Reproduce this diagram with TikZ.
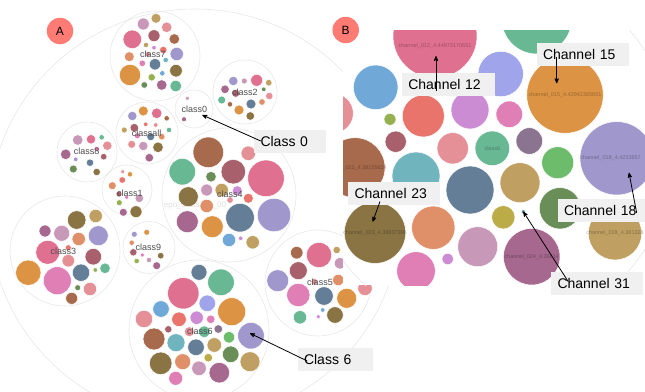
\documentclass[tikz,border=0pt]{standalone}
\usepackage{fontspec}
\setmainfont{Liberation Sans}
\usepackage{tikz}
\usetikzlibrary{arrows}
\usetikzlibrary{positioning}
\newcommand\defaultarrowstyle{stealth'}
\tikzset{>=\defaultarrowstyle}
\newcommand\ringwidth{.6pt}
\newcommand\pointerwidth{.8pt}
\definecolor{ringgrey}{HTML}{E8E8E8}
\definecolor{boxgrey}{HTML}{F0F0F0}
\definecolor{labelgrey}{HTML}{4D4D4D}
\definecolor{badgered}{HTML}{FF7B73}
\definecolor{pinkbig}{HTML}{E07090}
\definecolor{mauve}{HTML}{C898B8}
\definecolor{olivegold}{HTML}{C0A062}
\definecolor{salmon}{HTML}{E49096}
\definecolor{wine}{HTML}{A8606C}
\definecolor{brownred}{HTML}{A86A4C}
\definecolor{olivedark}{HTML}{8A7444}
\definecolor{magenta}{HTML}{E07EB6}
\definecolor{slate}{HTML}{647E98}
\definecolor{teal}{HTML}{70B4BE}
\definecolor{orange}{HTML}{DC9444}
\definecolor{orangetan}{HTML}{E09068}
\definecolor{blue}{HTML}{70A8D8}
\definecolor{lavender}{HTML}{A098CC}
\definecolor{lavblue}{HTML}{A0A4EA}
\definecolor{greenteal}{HTML}{68B894}
\definecolor{green}{HTML}{6CBC6C}
\definecolor{darkgreen}{HTML}{6A8E58}
\definecolor{greenyellow}{HTML}{94B050}
\definecolor{yellowolive}{HTML}{BCAC48}
\definecolor{red}{HTML}{E8746C}
\definecolor{orchid}{HTML}{CC8CD4}
\definecolor{plum}{HTML}{A6688E}
\definecolor{purplegray}{HTML}{8A7490}
\definecolor{tealdark}{HTML}{4A9088}
\tikzstyle{bubble}  = [draw=white, line width=.5pt]
\tikzstyle{cluster} = [draw=ringgrey, line width=\ringwidth]
\tikzstyle{clabel}  = [text=labelgrey, inner sep=0pt, font=\fontsize{9}{10}\selectfont]
\tikzstyle{chlabel} = [text=black, text opacity=.3, inner sep=0pt, font=\fontsize{5.5}{6}\selectfont]
\tikzstyle{tag}     = [fill=boxgrey, inner xsep=6.5pt, minimum height=23pt, align=left,
                       font=\fontsize{14}{16}\selectfont]
\tikzstyle{badge}   = [circle, fill=badgered, minimum size=26.5pt, inner sep=0pt,
                       font=\fontsize{12}{14}\selectfont]
\tikzstyle{pointer} = [->, line width=\pointerwidth]

\begin{document}
\begin{tikzpicture}[x=1pt, y=-1pt]
  \useasboundingbox (0,0) rectangle (645,391);
  \fill[white] (0,0) rectangle (645,391);
  % panel A: rings of the clusters
  \draw[cluster] (195,215) circle (206pt);
  \foreach \x/\y/\r in {155/56/45, 245/92/32, 194/109/19, 147/133/31, 87/152/30,
      127/190/25, 229/195/67, 149/247.5/26, 65/251/55, 199/330/70, 318/283/53}
    \draw[cluster] (\x,\y) circle (\r pt);
  \node[text=black!12, inner sep=0pt, font=\fontsize{8}{9}\selectfont] (epo) at (195,205) {epo\_classifier\_00};
  % class7
  \foreach \x/\y/\r/\c in {132.3/39.3/9.3/pinkbig, 143.3/24/6/mauve, 156/18.3/5/olivegold,
      166.7/27.3/5.3/salmon, 154/35.7/6/wine, 174.3/39/5.3/brownred, 146/45/2.7/olivegold,
      154/47.7/2.3/orchid, 163.3/50/3.7/red, 176.7/54/6.7/lavender, 129.3/56.7/5/orangetan,
      147.7/54.3/2.7/salmon, 142.3/63.3/3.3/magenta, 155/64.3/5.7/slate, 165.7/60/2.7/teal,
      130/75/10.7/orange, 176/70.7/6.3/olivedark, 162.3/73.3/2.7/blue, 151.7/77.3/3.7/greenyellow,
      144.3/85/3.3/darkgreen, 161.7/85/5.3/plum, 175.7/86/5.7/greenteal}
    \fill[bubble, fill=\c] (\x,\y) circle (\r pt);
  % class2
  \foreach \x/\y/\r/\c in {233.3/81/4.7/lavender, 244.3/81/3/mauve, 256.7/80.3/6/pinkbig,
      268.7/82.7/3.3/olivegold, 225/89.3/4.3/plum, 235.7/93.3/4/wine, 263.7/89.3/2.3/darkgreen,
      269.3/96/3.7/salmon, 221.7/100/4/greenteal, 230/104.3/2.7/brownred, 239/110/5/orange,
      251/104/5/slate, 262/102/3.3/orangetan, 250.3/116/4.3/olivedark}
    \fill[bubble, fill=\c] (\x,\y) circle (\r pt);
  % class0
  \fill[bubble, fill=mauve] (187.3,98.3) circle (2pt);
  \fill[bubble, fill=plum] (184,119.3) circle (2.5pt);
  % classall
  \foreach \x/\y/\r/\c in {132.3/116/4.7/lavender, 143.3/111/5/orange, 156.7/113.3/5.3/pinkbig,
      166.7/118.3/2.7/brownred, 124.3/130/3/olivegold, 134.3/127.7/4.3/wine, 145.7/124.3/2.3/red,
      155.7/125/2.3/salmon, 169/130/2.7/greenteal, 137.3/135.7/3/magenta, 150.7/136.7/4/slate,
      161.7/136.7/3.3/orangetan, 131.7/144.3/4/salmon, 143.3/146/4.7/mauve, 158/147.3/5.3/olivedark,
      149.3/157.7/4.3/plum}
    \fill[bubble, fill=\c] (\x,\y) circle (\r pt);
  % class8
  \foreach \x/\y/\r/\c in {77.7/140/5.3/mauve, 91/139.3/4.7/pinkbig, 101.7/137.3/2.7/greenteal,
      107.3/145.7/4.7/salmon, 96.7/149/2.7/magenta, 65.7/154.3/5.3/plum, 103.7/156.7/3.3/wine,
      75.7/159.3/2.3/lavender, 90/162.7/3.7/slate, 73.3/169/4/darkgreen, 96.7/172/3.7/olivedark}
    \fill[bubble, fill=\c] (\x,\y) circle (\r pt);
  % class1
  \foreach \x/\y/\r/\c in {122.7/171.7/2/salmon, 130/174.3/2.7/orange, 112.3/185.7/4/orangetan,
      122.3/180/3.3/red, 119/194/3/wine, 126.7/197.3/2/magenta, 139.3/198.3/4.3/mauve,
      119.3/202.7/3/greenyellow, 123.3/212.3/4/plum, 136/211.7/6/olivedark}
    \fill[bubble, fill=\c] (\x,\y) circle (\r pt);
  % class4
  \foreach \x/\y/\r/\c in {208.3/152.3/15.3/brownred, 248.3/153.3/7.3/salmon, 182.3/171.7/13.3/greenteal,
      233.3/171.7/12.3/wine, 266/178.3/18.3/pinkbig, 211/176.7/5.3/darkgreen, 188.3/196.7/10/olivedark,
      206.7/190/6/mauve, 221.7/190/6.7/olivegold, 237.3/190.7/5/orchid, 206.7/206/6.7/orangetan,
      230/200/3.3/salmon, 248.3/198.3/5/red, 187.3/221.7/11/plum, 212.3/226.7/11/orange,
      240/217.7/14.3/slate, 274/215/16.7/lavender, 229/240/6.7/blue, 240.7/238.3/2.3/orchid,
      252.7/242.3/6.7/olivegold}
    \fill[bubble, fill=\c] (\x,\y) circle (\r pt);
  % class9
  \foreach \x/\y/\r/\c in {134.3/234.3/3/lavender, 146.7/232.3/3/orange, 131.7/242.7/2.7/orangetan,
      133.3/252.3/3.7/wine, 142.3/255/2/magenta, 149/260/2.7/mauve, 136.7/261/2.7/greenyellow,
      160.7/255.7/3.3/olivedark, 156.7/265.7/4/plum}
    \fill[bubble, fill=\c] (\x,\y) circle (\r pt);
  % class3
  \foreach \x/\y/\r/\c in {76.7/220/9.3/olivedark, 95.7/216/6.7/olivegold, 45/231/6/plum,
      61.7/233.3/8/mauve, 78.7/239/6.7/orangetan, 98.3/235.7/10/lavender, 47.7/252.3/12/pinkbig,
      68.3/247.7/3/red, 68.3/260.7/6.3/salmon, 93.3/256.7/8.3/wine, 28.3/272.7/12.7/orange,
      57.3/280.7/14/magenta, 81/272.7/8.7/slate, 95.3/270/2.3/greenyellow, 105/268.3/5.3/greenteal,
      90/289/6.7/salmon, 77.7/287.7/3/darkgreen, 71.7/298.3/6/brownred}
    \fill[bubble, fill=\c] (\x,\y) circle (\r pt);
  % class6
  \foreach \x/\y/\r/\c in {199/272.3/8/slate, 221/282.3/13.3/greenteal, 183.3/293.3/15.7/pinkbig,
      207.3/303.3/8.3/lavblue, 231.7/311.7/14/orange, 161/309/8.3/blue, 144/319/8.7/salmon,
      179/319.3/7.3/red, 196.7/317.7/6.7/orchid, 210.7/319.3/4.3/magenta, 168.3/329.3/3.7/wine,
      189.3/331.7/5/salmon, 204.3/331.7/5.7/greenteal, 218.3/329/4.3/purplegray,
      251/335.7/13.3/lavender, 154/339/11/brownred, 176/342.7/9/teal, 196/347.3/8.3/slate,
      214.3/345/7.3/olivegold, 229/337.3/5.7/green, 160.7/363.3/11.3/olivedark,
      182.7/361.7/8/orangetan, 208.3/357.7/4.3/yellowolive, 230.7/354.3/8.3/darkgreen,
      250/361.7/10/olivegold, 199/368.3/7.3/mauve, 219.3/372.7/10.3/plum, 175.7/378.3/7/magenta}
    \fill[bubble, fill=\c] (\x,\y) circle (\r pt);
  % class5
  \foreach \x/\y/\r/\c in {296.7/252.7/6.3/brownred, 319/255/12.7/pinkbig, 336.7/250/3.7/olivegold,
      298.3/270.7/9/wine, 340/263.3/5.7/mauve, 277.7/280.7/11/lavender, 314.3/281.7/3.3/salmon,
      338.3/280/5.7/orangetan, 365/288.3/7.3/salmon, 298.3/295/11.7/magenta, 324/296/9.3/slate,
      346.7/298.3/10/orange, 322.7/310/2.3/blue, 318.3/316.7/2/orchid, 335/315/8.3/olivedark,
      300/317.3/6.7/greenteal}
    \fill[bubble, fill=\c] (\x,\y) circle (\r pt);
  % panel A: cluster names
  \foreach \x/\y/\t in {153/54/class7, 245/92/class2, 194.3/109.3/class0, 146.7/133.3/classall,
      86.7/151.7/class8, 130/193.3/class1, 230/194/class4, 148.3/247.3/class9, 63.3/251/class3,
      200/331/class6, 320/282.7/class5}
    \node[clabel] at (\x,\y) {\t};
  % panel B: zoomed view of class6
  \begin{scope}
    \clip (343,30) rectangle (645,285);
    \fill[white] (343,30) rectangle (645,285);
    \draw[cluster] (490,150) circle (184pt);
    \foreach \x/\y/\r/\c in {536.7/19/35/greenteal, 435/36/42/pinkbig, 500.7/74/22.7/lavblue,
        375.7/87.3/22.3/blue, 565/95/38.3/orange, 333.3/113.3/20/salmon, 390/119.3/6/greenyellow,
        423.3/116/21/red, 470/110/19/orchid, 509.3/114.3/13.3/magenta, 395.7/141.7/10.7/wine,
        452.7/148.3/15.7/salmon, 492.3/148.3/17.3/greenteal, 529.3/141/13.3/purplegray,
        616.7/158.3/36.7/lavender, 557.7/162.7/16/green, 355/167.7/30/brownred, 416/176/24/teal,
        470/190/24/slate, 520/182.7/20/olivegold, 560/208.3/20.7/darkgreen,
        375/232.7/30.7/olivedark, 433.3/227.7/21.7/orangetan, 503.3/217.3/11.7/yellowolive,
        523.3/211.7/2/tealdark, 615/233.3/26.7/olivegold, 477.7/246.7/20/mauve,
        447.7/259/5.7/orchid, 416/271/19.3/magenta, 531.7/256.7/28.3/plum}
      \fill[bubble, fill=\c] (\x,\y) circle (\r pt);
    \node[chlabel] at (435,46) {channel\_012\_4.44973170651};
    \node[chlabel] at (565,95) {channel\_015\_4.42942365651};
    \node[chlabel, anchor=west] at (580,158.3) {channel\_018\_4.4233657};
    \node[chlabel] at (355,167.7) {channel\_021\_4.38155624};
    \node[chlabel] at (375,232.7) {channel\_023\_4.38837396};
    \node[chlabel] at (531.7,256.7) {channel\_024\_4.36814};
    \node[chlabel] at (615,233.3) {channel\_028\_4.381328};
    \node[chlabel] at (492.3,148.3) {class6};
  \end{scope}
  % callouts
  \coordinate (c0tip) at (202.3,115);
  \coordinate (c6tip) at (250,333.3);
  \coordinate (ch12tip) at (436,56);
  \coordinate (ch15tip) at (556.7,83.3);
  \coordinate (ch18tip) at (629,172.7);
  \coordinate (ch23tip) at (372.7,221.7);
  \coordinate (ch31tip) at (523.3,211.7);
  \node[tag, text width=59pt] (c0tag) at (290,141) {Class 0};
  \node[tag, text width=62pt] (c6tag) at (335,359) {Class 6};
  \node[tag, text width=80pt] (ch12tag) at (448.3,84.7) {Channel 12};
  \node[tag, text width=79pt] (ch15tag) at (582.5,54.5) {Channel 15};
  \node[tag, text width=75pt] (ch18tag) at (601.5,210) {Channel 18};
  \node[tag, text width=79pt] (ch23tag) at (394,193.5) {Channel 23};
  \node[tag, text width=79pt] (ch31tag) at (597,283.7) {Channel 31};
  \draw[pointer] ([xshift=7pt]c0tag.west) -- (c0tip);
  \draw[pointer] ([xshift=10pt,yshift=-2pt]c6tag.west) -- (c6tip);
  \draw[pointer] ([xshift=-12.3pt,yshift=-6pt]ch12tag.center) -- (ch12tip);
  \draw[pointer] ([xshift=-25.8pt,yshift=-2pt]ch15tag.center) -- (ch15tip);
  \draw[pointer] ([xshift=35.2pt,yshift=-3pt]ch18tag.center) -- (ch18tip);
  \draw[pointer] ([xshift=-14pt,yshift=-8pt]ch23tag.center) -- (ch23tip);
  \draw[pointer] ([xshift=-28.7pt,yshift=2pt]ch31tag.center) -- (ch31tip);
  % panel badges
  \node[badge] (badgeA) at (60,31) {A};
  \node[badge] (badgeB) at (345.7,30) {B};
\end{tikzpicture}
\end{document}
